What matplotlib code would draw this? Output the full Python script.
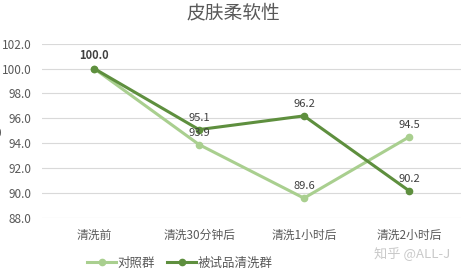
import matplotlib
matplotlib.use('Agg')
import matplotlib.pyplot as plt

plt.rcParams['font.family'] = ['Noto Sans CJK SC', 'DejaVu Sans']

categories = ['清洗前', '清洗30分钟后', '清洗1小时后', '清洗2小时后']
control = [100.0, 93.9, 89.6, 94.5]
treated = [100.0, 95.1, 96.2, 90.2]
series_names = ['对照群', '被试品清洗群']

light = '#a9cf8f'
dark = '#5e8f3e'
grey = '#595959'

fig = plt.figure(figsize=(4.67, 2.74), dpi=100)
ax = fig.add_axes([0.089, 0.204, 0.899, 0.637])

x = list(range(len(categories)))
ax.plot(x, control, color=light, lw=2.2, marker='o', ms=4.5, label=series_names[0], zorder=3)
ax.plot(x, treated, color=dark, lw=2.2, marker='o', ms=4.5, label=series_names[1], zorder=4)

# data labels
for i, v in enumerate(control):
    if i == 0:
        continue
    ax.annotate(f'{v:.1f}', (i, v), xytext=(0, 5), textcoords='offset points',
                ha='center', va='bottom', fontsize=8, color='#404040', zorder=5)
for i, v in enumerate(treated):
    w = 'bold' if i == 0 else 'normal'
    ax.annotate(f'{v:.1f}', (i, v), xytext=(0, 5), textcoords='offset points',
                ha='center', va='bottom', fontsize=8, color='#404040', fontweight=w, zorder=5)

ax.set_xlim(-0.5, 3.5)
ax.set_ylim(88, 102)
ax.set_yticks([88, 90, 92, 94, 96, 98, 100, 102])
ax.set_yticklabels([f'{t:.1f}' for t in ax.get_yticks()])
ax.set_xticks(x)
ax.set_xticklabels(categories)
ax.tick_params(axis='both', length=0, labelsize=8.5, colors=grey)
ax.tick_params(axis='y', pad=7)
ax.tick_params(axis='x', pad=8)
ax.grid(axis='y', color='#d9d9d9', lw=0.8)
ax.set_axisbelow(True)
for s in ax.spines.values():
    s.set_visible(False)

fig.suptitle('皮肤柔软性', x=0.5, y=0.99, fontsize=13.5, color=grey)
fig.legend(loc='lower center', bbox_to_anchor=(0.385, -0.025), ncol=2, frameon=False,
           fontsize=9, handlelength=2.3, columnspacing=1.0, handletextpad=0.1,
           labelcolor=grey)
fig.text(0.8, 0.06, '知乎 @ALL-J', fontsize=9.5, color='#c9c9c9')
fig.text(-0.011, 0.511, '0', fontsize=8.5, color=grey, va='center')

fig.savefig('out.png', dpi=100)
